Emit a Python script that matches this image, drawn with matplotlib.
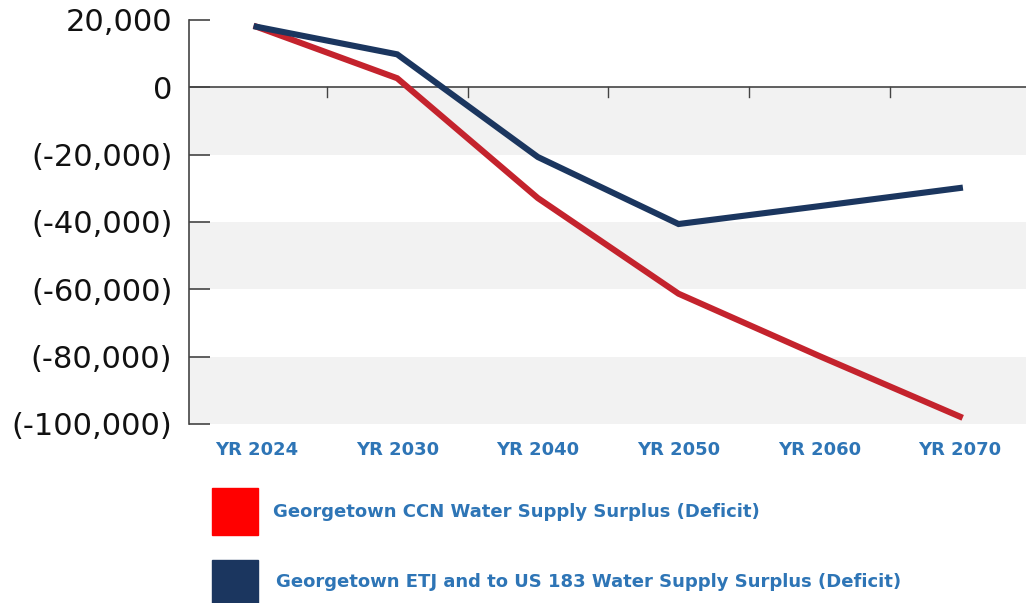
import numpy as np
import matplotlib
matplotlib.use("Agg")
import matplotlib.pyplot as plt
from matplotlib.patches import Rectangle

# data
years = ['YR 2024', 'YR 2030', 'YR 2040', 'YR 2050', 'YR 2060', 'YR 2070']
ccn = [18000, 2700, -32900, -61300, -79800, -97800]
etj = [18000, 9800, -20700, -40600, -35300, -29900]
yticks = [20000, 0, -20000, -40000, -60000, -80000, -100000]
ytick_labels = ['20,000', '0', '(-20,000)', '(-40,000)', '(-60,000)', '(-80,000)', '(-100,000)']
series_names = ['Georgetown CCN Water Supply Surplus (Deficit)',
                'Georgetown ETJ and to US 183 Water Supply Surplus (Deficit)']

red = '#c4232d'
navy = '#1b365f'
blue_txt = '#2e75b6'
axis_col = '#444444'

plt.rcParams['font.family'] = ['DejaVu Sans']

fig = plt.figure(figsize=(10.26, 6.03), dpi=100)
ax = fig.add_axes([189 / 1026, 1 - 424 / 603, 1 - 189 / 1026, (424 - 20) / 603])

x = np.arange(len(years))

# grey bands
for i in range(len(yticks) - 1):
    if i % 2 == 1:
        ax.axhspan(yticks[i + 1], yticks[i], color='#f2f2f2', lw=0, zorder=0)

ax.plot(x, ccn, color=red, lw=4.4, solid_joinstyle='miter', zorder=3)
ax.plot(x, etj, color=navy, lw=4.4, solid_joinstyle='miter', zorder=3)

ax.set_xlim(-0.48, 5.47)
ax.set_ylim(-100000, 20000)

for s in ['top', 'right', 'bottom']:
    ax.spines[s].set_visible(False)
ax.spines['left'].set_color(axis_col)
ax.spines['left'].set_linewidth(1.2)

# horizontal axis line at zero with category-boundary ticks
ax.axhline(0, color=axis_col, lw=1.2, zorder=2)
for b in np.arange(0.5, len(years)):
    ax.plot([b, b], [0, -3000], color=axis_col, lw=1.0, zorder=2)

ax.set_yticks(yticks)
ax.set_yticklabels(ytick_labels, fontsize=22, color='#111111')
ax.tick_params(axis='y', direction='in', length=15, width=1.2, color=axis_col, pad=12)

ax.set_xticks(x)
ax.set_xticklabels(years, fontsize=13, fontweight='bold', color=blue_txt)
ax.tick_params(axis='x', length=0, pad=12)

# legend
fig.patches.append(Rectangle((212 / 1026, 1 - 535 / 603), 46 / 1026, 47 / 603,
                             transform=fig.transFigure, color='#ff0000'))
fig.patches.append(Rectangle((212 / 1026, 0), 46 / 1026, 43 / 603,
                             transform=fig.transFigure, color=navy))
fig.text(273 / 1026, 1 - 512 / 603, series_names[0], fontsize=13, fontweight='bold',
         color=blue_txt, va='center')
fig.text(276 / 1026, 1 - 582 / 603, series_names[1], fontsize=13, fontweight='bold',
         color=blue_txt, va='center')

fig.savefig('out.png', dpi=100)
